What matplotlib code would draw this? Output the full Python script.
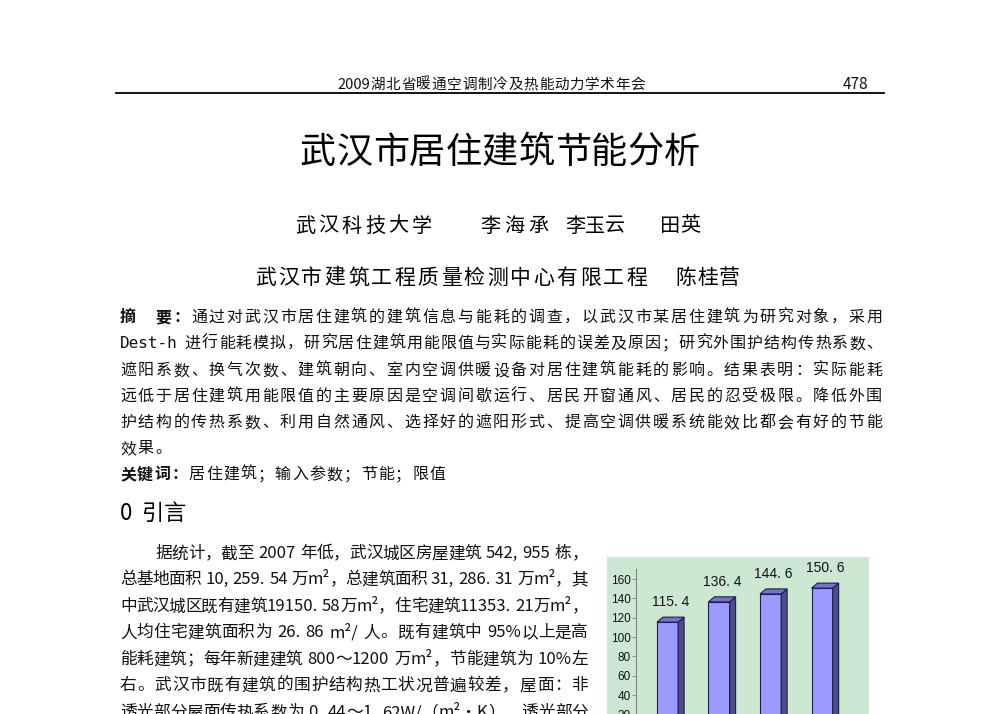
import matplotlib
matplotlib.use("Agg")
import matplotlib.pyplot as plt
from matplotlib.patches import Rectangle, Polygon
from matplotlib.lines import Line2D

# ---------------- data ----------------
categories = ["1", "2", "3", "4"]
values = [115.4, 136.4, 144.6, 150.6]
yticks = [0, 20, 40, 60, 80, 100, 120, 140, 160]

header_text = "2009湖北省暖通空调制冷及热能动力学术年会"
page_number = "478"
title_text = "武汉市居住建筑节能分析"
authors_1 = ["武汉科技大学", "李海承", "李玉云", "田英"]
authors_2 = ["武汉市建筑工程质量检测中心有限工程", "陈桂营"]
abstract_lines = [
    "通过对武汉市居住建筑的建筑信息与能耗的调查，以武汉市某居住建筑为研究对象，采用",
    "进行能耗模拟，研究居住建筑用能限值与实际能耗的误差及原因；研究外围护结构传热系数、",
    "遮阳系数、换气次数、建筑朝向、室内空调供暖设备对居住建筑能耗的影响。结果表明：实际能耗",
    "远低于居住建筑用能限值的主要原因是空调间歇运行、居民开窗通风、居民的忍受极限。降低外围",
    "护结构的传热系数、利用自然通风、选择好的遮阳形式、提高空调供暖系统能效比都会有好的节能",
    "效果。",
]
keywords = "居住建筑；输入参数；节能；限值"
section_title = "0 引言"
body_lines = [
    "据统计，截至 2007 年低，武汉城区房屋建筑 542, 955 栋，",
    "总基地面积 10, 259. 54 万m²，总建筑面积 31, 286. 31 万m²，其",
    "中武汉城区既有建筑19150. 58万m²，住宅建筑11353. 21万m²，",
    "人均住宅建筑面积为 26. 86 m²/ 人。既有建筑中 95%以上是高",
    "能耗建筑；每年新建建筑 800～1200 万m²，节能建筑为 10%左",
    "右。武汉市既有建筑的围护结构热工状况普遍较差，屋面：非",
    "透光部分屋面传热系数为 0. 44～1. 62W/（m²·K），透光部分",
]

# ---------------- figure ----------------
W, H = 1000, 714
DPI = 100
plt.rcParams['font.family'] = ['Noto Sans CJK SC', 'DejaVu Sans']
fig = plt.figure(figsize=(W / DPI, H / DPI), dpi=DPI, facecolor='white')
renderer = fig.canvas.get_renderer()
CJK = ['Noto Sans CJK SC', 'DejaVu Sans']


def fx(x):
    return x / W


def fy(y):
    return 1 - y / H


def tokenize(s, props):
    toks = []
    buf = ''
    for c in s:
        if c == ' ':
            if buf:
                toks.append((buf, props))
                buf = ''
            toks.append((' ', props))
        elif ord(c) < 0x2E80:
            buf += c
        else:
            if buf:
                toks.append((buf, props))
                buf = ''
            toks.append((c, props))
    if buf:
        toks.append((buf, props))
    return toks


def draw_line(parts, x0, y, size, x1=None, gap=0.0, color='#111111'):
    """parts: list of (text, props). y is the visual center in px from top."""
    size_px = size * DPI / 72.0
    toks = []
    for text, props in parts:
        toks += tokenize(text, props)
    items = []
    for t, props in toks:
        if t == ' ':
            items.append((None, 0.3 * size_px))
            continue
        fam = props.get('family', CJK)
        txt = fig.text(0, 0, t, fontsize=size, family=fam,
                       fontweight=props.get('weight', 'normal'),
                       color=color, va='baseline', ha='left')
        w = txt.get_window_extent(renderer).width
        items.append((txt, w))
    total = sum(w for _, w in items)
    if x1 is not None and len(items) > 1:
        gap = (x1 - x0 - total) / (len(items) - 1)
    base = y + 0.38 * size_px
    x = x0
    for txt, w in items:
        if txt is not None:
            txt.set_position((fx(x), fy(base)))
        x += w + gap


# header
draw_line([(header_text, {})], 337, 83, 10.5, x1=645)
fig.text(fx(868), fy(83 + 0.38 * 10.5 * DPI / 72), page_number, fontsize=11,
         ha='right', va='baseline', color='#111111')
fig.add_artist(Line2D([fx(116), fx(884)], [fy(93), fy(93)], color='black',
                      lw=1.3, transform=fig.transFigure))

# title
draw_line([(title_text, {})], 300, 149, 26, x1=700, color='black')

# authors
spans_1 = [(295, 432), (480, 548), (565, 625), (660, 700)]
for name, (a, b) in zip(authors_1, spans_1):
    draw_line([(name, {})], a, 224, 14.5, x1=b, color='black')
spans_2 = [(255, 647), (675, 740)]
for name, (a, b) in zip(authors_2, spans_2):
    draw_line([(name, {})], a, 276, 15, x1=b, color='black')

# abstract
ab_y = [316, 342, 369, 395, 421, 447]
ab_size = 11.5
draw_line([("摘　要：", {'weight': 'bold'}), (abstract_lines[0], {})],
          120, ab_y[0], ab_size, x1=882)
draw_line([("Dest-h", {'family': ['DejaVu Sans Mono']}), (" " + abstract_lines[1], {})],
          120, ab_y[1], ab_size, x1=882)
for i in range(2, 5):
    draw_line([(abstract_lines[i], {})], 120, ab_y[i], ab_size, x1=882)
draw_line([(abstract_lines[5], {})], 120, ab_y[5], ab_size, gap=1.8)
draw_line([("关键词：", {'weight': 'bold'}), (keywords, {})], 120, 473, ab_size, gap=1.2)

# section
draw_line([(section_title, {})], 120, 512, 16, gap=1.0, color='black')

# body
body_y = [552, 578, 605, 631, 658, 684, 711]
for i, line in enumerate(body_lines):
    x0 = 155 if i == 0 else 120
    draw_line([(line, {})], x0, body_y[i], 12, x1=588)

# ---------------- chart ----------------
fig.add_artist(Rectangle((fx(607), 0), (869 - 607) / W, (714 - 557) / H,
                         transform=fig.transFigure, facecolor='#cde8d2',
                         edgecolor='none', zorder=0))

ymax = 170
px_per_unit = 0.9667
axis_left, axis_right = 636, 853
zero_y = 733.7
ax = fig.add_axes([fx(axis_left), fy(zero_y), (axis_right - axis_left) / W,
                   ymax * px_per_unit / H])
ax.patch.set_visible(False)
ax.set_zorder(2)
x_pos = list(range(len(categories)))
ax.set_xlim(-0.612, 3.6)
ax.set_ylim(0, ymax)
bw = 0.41

bbox = ax.get_window_extent(renderer)
xl = ax.get_xlim()
yl = ax.get_ylim()
dx = 6 * (xl[1] - xl[0]) / bbox.width
dy = 5 * (yl[1] - yl[0]) / bbox.height

edge = '#1c1c50'
ax.bar(x_pos, values, width=bw, color='#9a9aff', edgecolor=edge, linewidth=0.8, zorder=3)
for x, v in zip(x_pos, values):
    r = x + bw / 2
    l = x - bw / 2
    ax.add_patch(Polygon([(r, 0), (r + dx, dy), (r + dx, v + dy), (r, v)], closed=True,
                         facecolor='#4c4c86', edgecolor=edge, linewidth=0.8, zorder=3))
    ax.add_patch(Polygon([(l, v), (l + dx, v + dy), (r + dx, v + dy), (r, v)], closed=True,
                         facecolor='#7474cc', edgecolor=edge, linewidth=0.8, zorder=3))
    ax.annotate(f"{v:.1f}".replace('.', '. '), (x + dx / 2, v + dy), xytext=(0, 11),
                textcoords='offset points', ha='center', va='center',
                fontsize=10, family=['Liberation Sans', 'DejaVu Sans'], color='#111111')

ax.set_yticks(yticks)
ax.set_yticklabels([str(t) for t in yticks], family=['Liberation Sans', 'DejaVu Sans'],
                   fontsize=8.5, color='#111111')
ax.set_xticks(x_pos)
ax.tick_params(axis='x', labelbottom=False)
ax.tick_params(axis='y', length=3, width=0.6, color='#808080', pad=1)
for s in ['top', 'right']:
    ax.spines[s].set_visible(False)
ax.spines['left'].set_color('#808080')
ax.spines['left'].set_linewidth(0.8)
ax.spines['bottom'].set_color('#808080')

fig.savefig("out.png", dpi=DPI, facecolor='white')
